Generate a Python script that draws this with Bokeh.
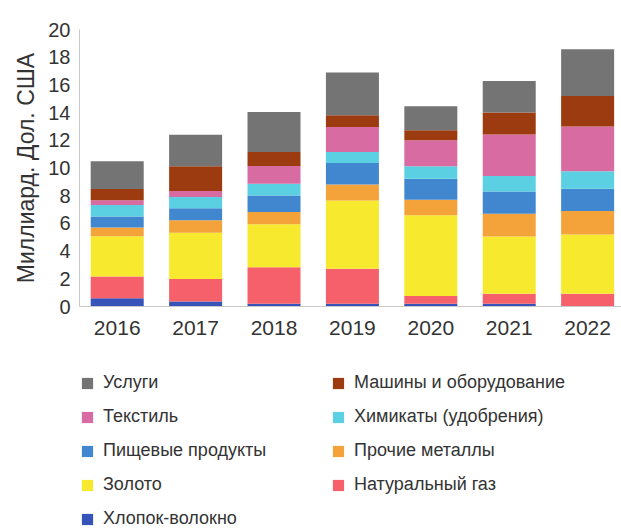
from bokeh.plotting import figure
from bokeh.models import ColumnDataSource, Range1d, FixedTicker, Legend, LegendItem
from bokeh.layouts import column
from bokeh.embed import file_html
from bokeh.resources import INLINE

years = [2016, 2017, 2018, 2019, 2020, 2021, 2022]
cotton = [0.60, 0.36, 0.19, 0.19, 0.19, 0.19, 0.03]
gas = [1.57, 1.62, 2.65, 2.53, 0.56, 0.73, 0.89]
gold = [2.90, 3.35, 3.09, 4.94, 5.83, 4.14, 4.28]
metals = [0.63, 0.89, 0.89, 1.14, 1.13, 1.64, 1.69]
food = [0.80, 0.88, 1.20, 1.56, 1.52, 1.61, 1.61]
chem = [0.83, 0.80, 0.85, 0.80, 0.89, 1.11, 1.26]
textile = [0.34, 0.44, 1.27, 1.80, 1.88, 2.99, 3.24]
machines = [0.82, 1.78, 1.02, 0.84, 0.72, 1.59, 2.20]
services = [2.00, 2.28, 2.89, 3.10, 1.74, 2.29, 3.38]

keys = ["cotton", "gas", "gold", "metals", "food", "chem", "textile", "machines", "services"]
labels = {
    "cotton": "Хлопок-волокно",
    "gas": "Натуральный газ",
    "gold": "Золото",
    "metals": "Прочие металлы",
    "food": "Пищевые продукты",
    "chem": "Химикаты (удобрения)",
    "textile": "Текстиль",
    "machines": "Машины и оборудование",
    "services": "Услуги",
}
colors = {
    "cotton": "#3553b8",
    "gas": "#f6606a",
    "gold": "#f7ea2e",
    "metals": "#f4a33a",
    "food": "#4187d0",
    "chem": "#5ad0e2",
    "textile": "#d96ba3",
    "machines": "#9c3a10",
    "services": "#747474",
}
y_ticks = [0, 2, 4, 6, 8, 10, 12, 14, 16, 18, 20]

src = ColumnDataSource(dict(year=years, cotton=cotton, gas=gas, gold=gold, metals=metals,
                            food=food, chem=chem, textile=textile, machines=machines,
                            services=services))

FONT = "Liberation Sans"
TXT = "#333333"

p = figure(width=621, height=360, output_backend="svg", toolbar_location=None,
           x_range=Range1d(2015.519, 2022.432), y_range=Range1d(0, 20),
           min_border_left=79, min_border_right=0, min_border_top=29, min_border_bottom=54)
p.vbar_stack(keys, x="year", width=0.676, source=src,
             fill_color=[colors[k] for k in keys], line_color=None)

p.outline_line_color = None
p.xgrid.visible = False
p.ygrid.visible = False

p.xaxis.ticker = FixedTicker(ticks=years)
p.yaxis.ticker = FixedTicker(ticks=y_ticks)
for ax in (p.xaxis, p.yaxis):
    ax.axis_line_color = "#c8c8c8"
    ax.axis_line_width = 1
    ax.major_tick_line_color = None
    ax.minor_tick_line_color = None
    ax.major_tick_out = 0
    ax.major_tick_in = 0
    ax.minor_tick_out = 0
    ax.major_label_text_color = TXT
    ax.major_label_text_font = FONT
p.xaxis.major_label_text_font_size = "21px"
p.xaxis.major_label_standoff = 14
p.yaxis.major_label_text_font_size = "20px"
p.yaxis.major_label_standoff = 9
p.yaxis.axis_label = "Миллиард. Дол. США"
p.yaxis.axis_label_text_font = FONT
p.yaxis.axis_label_text_font_size = "23px"
p.yaxis.axis_label_text_font_style = "normal"
p.yaxis.axis_label_text_color = TXT
p.yaxis.axis_label_standoff = 6

# legend panel (its frame is aligned with the chart frame, starting at x=79)
p2 = figure(width=621, height=169, output_backend="svg", toolbar_location=None,
            x_range=Range1d(0, 1), y_range=Range1d(0, 1),
            x_axis_location=None, y_axis_location=None,
            min_border=0, min_border_left=0, min_border_right=0, min_border_top=0, min_border_bottom=0)
p2.grid.visible = False
p2.outline_line_color = None
rends = {}
for k in keys:
    rends[k] = p2.vbar(x=[-5], top=[-5], width=0.1, fill_color=colors[k], line_color=None)

col1 = ["services", "textile", "food", "gold", "cotton"]
col2 = ["machines", "chem", "metals", "gas"]
for cols, xloc, yloc in ((col1, 1, 0), (col2, 252, 34)):
    lg = Legend(items=[LegendItem(label=labels[k], renderers=[rends[k]]) for k in cols],
                location=(xloc, yloc), orientation="vertical")
    lg.glyph_width = 14
    lg.glyph_height = 14
    lg.label_height = 18
    lg.spacing = 13
    lg.padding = 0
    lg.margin = 0
    lg.border_line_color = None
    lg.background_fill_alpha = 0
    lg.label_text_font = FONT
    lg.label_text_font_size = "18px"
    lg.label_text_color = TXT
    lg.label_standoff = 9
    p2.add_layout(lg, "center")

layout = column(p, p2, spacing=0)
open("out.html", "w").write(file_html(layout, INLINE))
